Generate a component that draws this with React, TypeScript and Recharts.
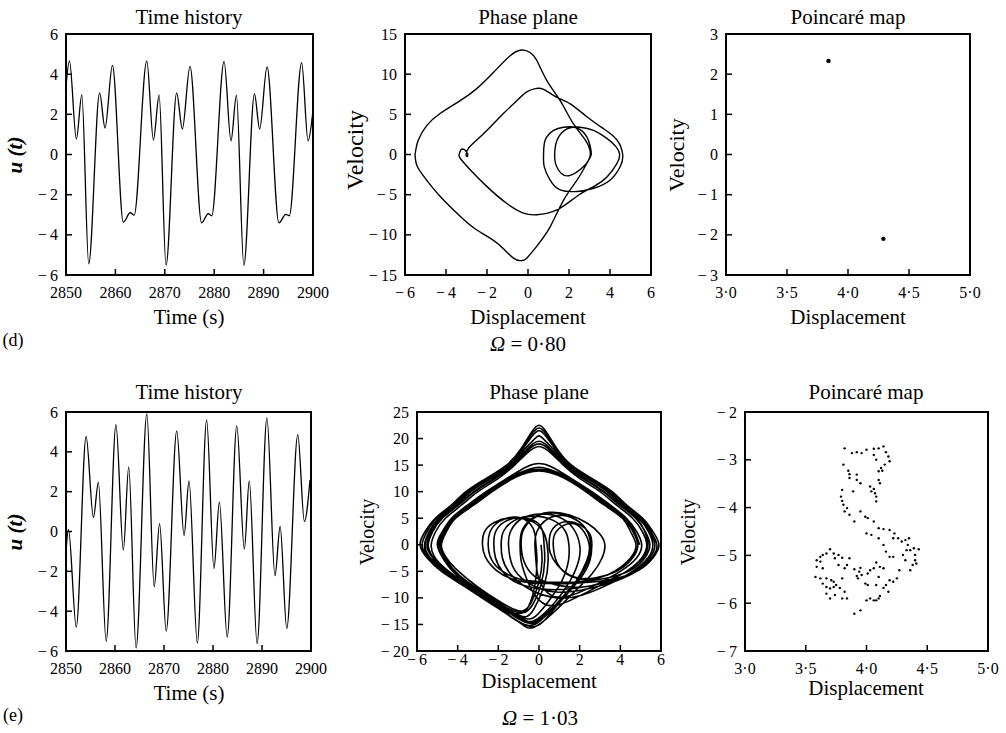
import type { ReactNode } from "react";
import { Line, LineChart, ReferenceArea, Scatter, ScatterChart, XAxis, YAxis } from "recharts";

const SERIF = '"Liberation Serif", "Times New Roman", serif';

// ---- (d) Ω = 0·80 ----
const timesD = [
  2850, 2850.7, 2852.1, 2853.2, 2854.6, 2856.8, 2857.9, 2859.4, 2861.6, 2863.0, 2863.8, 2866.35, 2867.7,
  2868.85, 2870.25, 2872.4, 2873.55, 2875.1, 2877.45, 2878.8, 2879.5, 2882.0, 2883.4, 2884.5, 2886.0,
  2888.15, 2889.2, 2890.7, 2893.1, 2894.5, 2895.2, 2897.7, 2899.0, 2900,
];
const uD = [
  3.4, 4.66, 0.77, 2.97, -5.44, 3.07, 1.32, 4.44, -3.37, -2.9, -3.02, 4.66, 0.72, 2.96, -5.52, 3.07, 1.27,
  4.39, -3.4, -2.95, -3.05, 4.64, 0.68, 2.94, -5.52, 3.02, 1.27, 4.36, -3.4, -2.98, -3.05, 4.57, 0.68, 2.2,
];

// displacement, velocity along one period of the orbit
const phaseD: [number, number][] = [
  [-5.51, 0], [-5.35, 1.8], [-4.94, 3.6], [-4.29, 5.1], [-3.31, 6.7], [-2.5, 8.2], [-1.69, 10.2], [-0.87, 12.3],
  [-0.3, 13.0], [0.1, 12.7], [0.43, 11.7], [0.92, 9.2], [1.57, 6.7], [2.22, 3.8], [2.8, 1.8], [3.04, 0],
  [2.71, -1.5], [2.06, -2.6], [1.6, -2.3], [1.35, -1.2], [1.3, 0],
  [1.42, 1.8], [1.9, 3.2], [2.55, 3.4], [3.2, 3.0], [3.85, 2.0], [4.3, 0.95], [4.47, 0],
  [4.34, -1.1], [3.85, -2.8], [3.2, -4.0], [2.39, -5.2], [1.41, -6.9], [0.43, -7.5], [-0.22, -7.3],
  [-1.03, -6.1], [-2.0, -4.0], [-2.82, -1.9], [-3.3, -0.5], [-3.36, 0],
  [-3.27, 0.6], [-3.1, 0.6], [-2.95, 0.1], [-2.97, -0.25], [-3.02, 0],
  [-2.9, 0.8], [-2.5, 1.8], [-1.85, 3.4], [-1.2, 5.1], [-0.55, 6.7], [-0.06, 7.8], [0.35, 8.2], [0.76, 8.1],
  [1.41, 7.1], [2.06, 6.3], [2.87, 4.7], [3.69, 3.2], [4.34, 1.8], [4.62, 0],
  [4.5, -1.5], [4.0, -3.2], [3.2, -4.2], [2.39, -4.6], [1.57, -4.4], [1.08, -3.2], [0.79, -1.5], [0.76, 0],
  [0.84, 1.8], [1.25, 3.0], [1.73, 3.4], [2.39, 3.3], [2.87, 2.2], [3.04, 0.95], [3.08, 0],
  [2.87, -1.1], [2.39, -3.2], [1.73, -5.7], [1.08, -9.0], [0.43, -11.4], [-0.06, -12.9], [-0.3, -13.2],
  [-0.71, -12.9], [-1.52, -11.0], [-2.5, -9.4], [-3.31, -7.7], [-4.29, -5.2], [-4.94, -3.2], [-5.4, -1.5],
  [-5.51, 0],
];

const poincareD: [number, number][] = [[3.84, 2.33], [4.29, -2.1]];

// ---- (e) Ω = 1·03 ----
const timesE = [
  2850, 2850.5, 2852.1, 2854.1, 2855.6, 2856.6, 2858.2, 2860.2, 2861.7, 2862.8, 2864.3, 2866.5, 2868.0,
  2869.1, 2870.45, 2872.6, 2874.1, 2875.1, 2876.8, 2878.7, 2880.2, 2881.3, 2882.9, 2884.85, 2886.4,
  2887.4, 2889.0, 2891.0, 2892.65, 2893.7, 2895.05, 2897.3, 2898.65, 2899.8,
];
const uE = [
  -1.0, 0.1, -4.8, 4.77, 0.7, 2.47, -5.51, 5.36, -0.93, 3.24, -5.85, 5.9, -2.78, 0.4, -5.0, 5.05, -0.2,
  2.54, -5.6, 5.6, -1.86, 1.47, -5.3, 5.3, -0.88, 2.54, -5.63, 5.7, -2.22, 0.25, -4.87, 4.86, 0.5, 2.6,
];

const phaseE: [number, number][] = [
  [0.1, 0], [0.15, -3], [0, -7], [-0.4, -11], [-0.9, -12.5], [-1.8, -11], [-3, -8], [-4.1, -4.5], [-4.6, -2.2], [-4.8, 0],
  [-4.55, 2.5], [-4.1, 5], [-3.2, 7.5], [-2.3, 10], [-1.2, 12.6], [0, 13.9], [1.2, 12.6], [2.3, 10], [3.2, 7.5], [4.1, 5], [4.5, 2.5], [4.77, 0],
  [4.5, -2.5], [3.7, -5], [2.6, -6.5], [1.6, -6], [0.9, -3.5], [0.7, 0],
  [0.85, 2.5], [1.5, 4], [2.1, 3], [2.47, 0],
  [2.35, -3], [1.8, -7], [0.9, -11], [0, -14], [-0.5, -14.5], [-1.4, -12.8], [-2.7, -9.8], [-4, -6.5], [-4.9, -3.8], [-5.35, -1.8], [-5.51, 0],
  [-5.3, 2.5], [-4.8, 5], [-4.0, 7.5], [-3.2, 10], [-2.2, 12.5], [-1.3, 15], [-0.7, 17.5], [-0.3, 19], [0, 19.5], [0.3, 19], [0.7, 17.5], [1.3, 15], [2.2, 12.5], [3.2, 10], [4.0, 7.5], [4.8, 5], [5.2, 2.5], [5.36, 0],
  [5.1, -2.5], [4.3, -5], [3.1, -7.5], [1.8, -10], [0.7, -11.5], [-0.1, -10], [-0.6, -6.5], [-0.88, -3], [-0.93, 0],
  [-0.85, 2.5], [-0.4, 4.8], [0.5, 6.1], [1.5, 5.6], [2.4, 4], [3.0, 2], [3.24, 0],
  [3.1, -2.5], [2.6, -5.5], [1.7, -9], [0.7, -12.8], [-0.3, -15.6], [-1.0, -14.5], [-2.2, -11.5], [-3.6, -8], [-4.8, -5], [-5.5, -2.5], [-5.85, 0],
  [-5.6, 2.5], [-5.1, 5], [-4.3, 7.5], [-3.6, 10], [-2.6, 12.5], [-1.6, 15], [-0.9, 18], [-0.35, 21.3], [0, 22.5], [0.35, 21.3], [0.9, 18], [1.6, 15], [2.6, 12.5], [3.6, 10], [4.3, 7.5], [5.1, 5], [5.6, 2.5], [5.9, 0],
  [5.6, -2.5], [4.9, -4.8], [3.6, -6.5], [2.0, -7.2], [0.5, -7.3], [-1.0, -6.8], [-2.1, -4.8], [-2.65, -2.2], [-2.78, 0],
  [-2.7, 2.3], [-2.2, 4.2], [-1.3, 5.1], [-0.4, 4.5], [0.2, 2.5], [0.4, 0],
  [0.45, -3], [0.3, -7], [-0.1, -11], [-0.6, -13.5], [-1.5, -12.3], [-2.8, -9], [-3.9, -6], [-4.6, -3.2], [-5.0, 0],
  [-4.75, 2.5], [-4.3, 5], [-3.5, 7.5], [-2.6, 10], [-1.5, 12.7], [-0.6, 14.7], [0, 15.3], [0.6, 14.7], [1.5, 12.7], [2.6, 10], [3.5, 7.5], [4.3, 5], [4.8, 2.5], [5.05, 0],
  [4.8, -2.5], [4.0, -5], [2.8, -7.5], [1.6, -9.5], [0.6, -9.5], [0.0, -6.5], [-0.15, -3], [-0.2, 0],
  [-0.1, 2.5], [0.4, 4.8], [1.2, 5.5], [2.0, 4.2], [2.45, 2], [2.54, 0],
  [2.45, -2.5], [2.0, -6], [1.2, -10], [0.3, -13.5], [-0.4, -14.8], [-1.2, -13.5], [-2.5, -10.3], [-3.8, -7.2], [-4.8, -4.3], [-5.4, -2.2], [-5.6, 0],
  [-5.38, 2.5], [-4.9, 5], [-4.1, 7.5], [-3.35, 10], [-2.35, 12.5], [-1.4, 15], [-0.75, 17.8], [-0.3, 19.6], [0, 20.5], [0.3, 19.6], [0.75, 17.8], [1.4, 15], [2.35, 12.5], [3.35, 10], [4.1, 7.5], [4.9, 5], [5.38, 2.5], [5.6, 0],
  [5.35, -2.5], [4.6, -5], [3.4, -7.5], [2.1, -9.5], [0.9, -10], [-0.4, -8.5], [-1.4, -5.5], [-1.8, -2.5], [-1.86, 0],
  [-1.75, 2.5], [-1.2, 4.6], [-0.3, 5.4], [0.7, 4.6], [1.3, 2.5], [1.47, 0],
  [1.45, -3], [1.1, -7], [0.4, -11], [-0.3, -13.8], [-1.0, -13.3], [-2.2, -10.8], [-3.5, -7.6], [-4.6, -4.5], [-5.15, -2.2], [-5.3, 0],
  [-5.08, 2.5], [-4.6, 5], [-3.8, 7.5], [-3.0, 10], [-2.0, 12.5], [-1.2, 15], [-0.6, 17.2], [0, 18.5], [0.6, 17.2], [1.2, 15], [2.0, 12.5], [3.0, 10], [3.8, 7.5], [4.6, 5], [5.08, 2.5], [5.3, 0],
  [5.05, -2.5], [4.3, -5], [3.2, -7], [2.0, -8], [0.8, -7.5], [-0.2, -6], [-0.75, -3], [-0.88, 0],
  [-0.8, 2.5], [-0.3, 4.9], [0.6, 6.0], [1.6, 5.2], [2.3, 3], [2.54, 0],
  [2.42, -3], [1.9, -6.5], [1.0, -10.5], [0.1, -14.2], [-0.5, -15.2], [-1.3, -13.8], [-2.6, -10.2], [-3.9, -7], [-4.9, -4.2], [-5.45, -2.2], [-5.63, 0],
  [-5.4, 2.5], [-4.95, 5], [-4.2, 7.5], [-3.45, 10], [-2.45, 12.5], [-1.5, 15], [-0.85, 17.8], [-0.35, 20.4], [0, 21.5], [0.35, 20.4], [0.85, 17.8], [1.5, 15], [2.45, 12.5], [3.45, 10], [4.2, 7.5], [4.95, 5], [5.45, 2.5], [5.7, 0],
  [5.45, -2.5], [4.7, -5], [3.4, -7], [1.8, -8.2], [0.3, -8.4], [-1.0, -7.3], [-1.8, -5], [-2.15, -2.3], [-2.22, 0],
  [-2.15, 2.3], [-1.7, 4.3], [-0.9, 5.1], [-0.1, 4.2], [0.2, 2.2], [0.25, 0],
  [0.28, -3], [0.1, -7.5], [-0.3, -11.2], [-0.8, -12.8], [-1.7, -11.6], [-2.9, -8.6], [-3.9, -5.8], [-4.55, -3], [-4.87, 0],
  [-4.62, 2.5], [-4.15, 5], [-3.3, 7.5], [-2.4, 10], [-1.3, 12.7], [0, 14.2], [1.3, 12.7], [2.4, 10], [3.3, 7.5], [4.15, 5], [4.62, 2.5], [4.86, 0],
  [4.6, -2.5], [3.9, -4.8], [2.8, -6.2], [1.7, -6], [0.9, -3.8], [0.55, -1.5], [0.5, 0],
  [0.6, 2.5], [1.2, 4.3], [2.0, 3.8], [2.5, 2], [2.6, 0],
  // later cycles, seen only in the phase plane
  [2.5, -3], [2.0, -6.5], [1.1, -10.5], [0.2, -14.5], [-0.4, -15.4], [-1.2, -14], [-2.5, -10.6], [-3.9, -7.3], [-4.95, -4.4], [-5.5, -2.2], [-5.75, 0],
  [-5.5, 2.5], [-5.05, 5], [-4.25, 7.5], [-3.5, 10], [-2.5, 12.5], [-1.55, 15], [-0.9, 17.9], [-0.35, 20.9], [0, 22], [0.35, 20.9], [0.9, 17.9], [1.55, 15], [2.5, 12.5], [3.5, 10], [4.25, 7.5], [5.05, 5], [5.5, 2.5], [5.8, 0],
  [5.55, -2.5], [4.8, -5], [3.5, -7.2], [2.0, -8.6], [0.6, -8.8], [-0.6, -7], [-1.3, -4], [-1.5, 0],
  [-1.4, 2.5], [-0.9, 4.8], [0, 5.8], [1.0, 5.2], [1.7, 3], [2.0, 0],
  [1.95, -3], [1.5, -7], [0.7, -11.2], [-0.1, -14], [-0.7, -14.4], [-1.6, -12.6], [-2.9, -9.6], [-4.1, -6.5], [-4.95, -3.6], [-5.3, -1.8], [-5.45, 0],
  [-5.22, 2.5], [-4.75, 5], [-3.95, 7.5], [-3.15, 10], [-2.15, 12.5], [-1.25, 15], [-0.65, 17.4], [0, 19], [0.65, 17.4], [1.25, 15], [2.15, 12.5], [3.15, 10], [3.95, 7.5], [4.75, 5], [5.22, 2.5], [5.45, 0],
  [5.2, -2.5], [4.5, -4.8], [3.3, -6.3], [1.8, -7], [0.3, -7], [-1.0, -6.4], [-2.0, -4.4], [-2.42, -2], [-2.5, 0],
  [-2.42, 2.3], [-1.95, 4.4], [-1.1, 5.2], [-0.45, 4], [-0.2, 2], [-0.15, 0],
  [-0.1, -3], [-0.2, -7.5], [-0.5, -11.5], [-1.0, -13], [-1.9, -11.8], [-3.0, -8.8], [-4.0, -5.9], [-4.65, -3], [-4.95, 0],
  [-4.7, 2.5], [-4.22, 5], [-3.4, 7.5], [-2.5, 10], [-1.4, 12.7], [-0.5, 14.2], [0, 14.6], [0.5, 14.2], [1.4, 12.7], [2.5, 10], [3.4, 7.5], [4.22, 5], [4.7, 2.5], [4.95, 0],
];

const poincareE: [number, number][] = [
  [3.82, -2.76], [3.88, -2.86], [3.92, -2.84], [3.96, -2.86], [4.0, -2.79], [4.06, -2.77], [4.1, -2.76], [4.14, -2.72],
  [4.16, -2.84], [4.18, -2.93], [4.19, -3.03], [4.06, -2.9], [4.08, -3.0], [4.15, -3.1], [4.12, -3.17], [4.13, -3.23],
  [4.1, -3.24], [3.81, -3.1], [3.85, -3.23], [3.86, -3.3], [3.92, -3.31], [3.92, -3.42], [3.86, -3.38], [3.95, -3.49],
  [3.89, -3.66], [3.8, -3.63], [3.79, -3.77], [3.8, -3.86], [3.82, -4.08], [3.9, -4.29], [3.95, -4.08], [3.99, -4.19],
  [4.01, -4.22], [4.06, -4.29], [4.1, -4.43], [4.14, -4.45], [4.19, -4.47], [4.0, -4.54], [4.04, -4.57], [4.1, -4.64],
  [4.14, -4.78], [4.16, -4.92], [4.19, -5.03], [4.22, -5.03], [4.03, -3.56], [4.06, -3.61], [4.04, -3.66], [4.07, -3.7],
  [4.08, -3.77], [4.08, -3.87], [4.1, -3.42], [4.11, -3.49], [4.26, -4.64], [4.29, -4.71], [4.32, -4.68], [4.35, -4.64],
  [4.34, -4.78], [4.36, -4.89], [4.39, -4.85], [4.43, -4.87], [4.4, -4.99], [4.4, -5.1], [4.41, -5.17], [4.38, -5.2],
  [4.32, -5.1], [4.3, -4.99], [4.33, -4.89], [4.36, -5.31], [4.27, -5.31], [4.25, -5.48], [4.22, -5.55], [4.19, -5.52],
  [4.16, -5.62], [4.14, -5.68], [4.18, -5.76], [4.08, -5.15], [4.06, -5.27], [4.03, -5.31], [4.01, -5.38], [4.11, -5.24],
  [4.14, -5.27], [4.1, -5.45], [3.99, -5.59], [4.01, -5.62], [4.08, -5.62], [4.03, -5.9], [4.06, -5.94], [4.08, -5.94],
  [4.1, -5.9], [4.11, -5.85], [4.0, -5.94], [3.95, -6.15], [3.9, -6.22], [3.95, -5.26], [3.94, -5.34], [3.96, -5.41],
  [3.92, -5.43], [3.93, -5.48], [3.9, -5.29], [3.86, -5.06], [3.84, -5.2], [3.82, -5.27], [3.8, -5.05], [3.77, -4.99],
  [3.73, -4.96], [3.7, -4.87], [3.67, -4.96], [3.64, -4.99], [3.62, -5.03], [3.59, -5.1], [3.59, -5.24], [3.58, -5.45],
  [3.62, -5.48], [3.64, -5.59], [3.67, -5.66], [3.7, -5.69], [3.73, -5.66], [3.75, -5.62], [3.78, -5.68], [3.73, -5.55],
  [3.71, -5.52], [3.67, -5.48], [3.67, -5.8], [3.7, -5.9], [3.74, -5.83], [3.8, -5.9], [3.84, -5.9], [3.82, -5.76],
  [3.8, -5.48], [3.77, -5.2], [3.74, -5.06], [3.62, -5.13], [3.64, -5.27], [3.81, -3.94], [3.86, -4.15], [3.84, -4.01],
  [4.23, -4.54], [4.22, -4.64],
];

// ---- axes ----
const timeTicks = [2850, 2860, 2870, 2880, 2890, 2900];
const uTicks = [-6, -4, -2, 0, 2, 4, 6];
const dispTicks = [-6, -4, -2, 0, 2, 4, 6];
const velTicksD = [-15, -10, -5, 0, 5, 10, 15];
const velTicksE = [-20, -15, -10, -5, 0, 5, 10, 15, 20, 25];
const mapDispTicks = [3, 3.5, 4, 4.5, 5];
const mapVelTicksD = [-3, -2, -1, 0, 1, 2, 3];
const mapVelTicksE = [-7, -6, -5, -4, -3, -2];

const fmtPlain = (v: number) => `${v}`;
const fmtInt = (v: number) => (v < 0 ? `\u2212\u2009${-v}` : `${v}`);
const fmtDot = (v: number) => v.toFixed(1).replace(".", "\u00b7");

type Box = { l: number; t: number; r: number; b: number };

const boxes: Record<string, Box> = {
  thD: { l: 66, t: 34, r: 313, b: 275 },
  ppD: { l: 405, t: 34, r: 651, b: 275 },
  pmD: { l: 726, t: 34, r: 970, b: 275 },
  thE: { l: 66, t: 412, r: 311, b: 651 },
  ppE: { l: 417, t: 412, r: 661, b: 651 },
  pmE: { l: 745, t: 412, r: 988, b: 651 },
};

const tickLineStyle = { stroke: "#000", strokeWidth: 1.5 };

// serif tick labels drawn by hand so the font is sure to stick
const xTick = (fmt: (v: number) => string) => (props: any) => (
  <text x={props.x} y={props.y} dy="0.71em" textAnchor="middle" fontFamily={SERIF} fontSize={16} fill="#000">
    {fmt(props.payload.value)}
  </text>
);
const yTick = (fmt: (v: number) => string) => (props: any) => (
  <text x={props.x} y={props.y} dy="0.35em" textAnchor="end" fontFamily={SERIF} fontSize={16} fill="#000">
    {fmt(props.payload.value)}
  </text>
);

function frame(
  xDomain: [number, number],
  yDomain: [number, number],
  xTicks: number[],
  yTicks: number[],
  xFmt: (v: number) => string,
  yFmt: (v: number) => string,
  xGap: number,
) {
  return [
    <XAxis
      key="x"
      type="number"
      dataKey="x"
      domain={xDomain}
      ticks={xTicks}
      interval={0}
      allowDataOverflow
      axisLine={false}
      tickSize={-6}
      tickMargin={xGap}
      height={40}
      tick={xTick(xFmt)}
      tickLine={tickLineStyle}
    />,
    <YAxis
      key="y"
      type="number"
      dataKey="y"
      domain={yDomain}
      ticks={yTicks}
      interval={0}
      allowDataOverflow
      axisLine={false}
      tickSize={-6}
      tickMargin={14}
      width={60}
      tick={yTick(yFmt)}
      tickLine={tickLineStyle}
    />,
    <ReferenceArea
      key="box"
      x1={xDomain[0]}
      x2={xDomain[1]}
      y1={yDomain[0]}
      y2={yDomain[1]}
      fill="none"
      fillOpacity={0}
      stroke="#000"
      strokeWidth={2}
      ifOverflow="visible"
    />,
  ];
}

const margin = { top: 10, right: 30, left: 0, bottom: 0 };

function place(box: Box) {
  return {
    style: { position: "absolute" as const, left: box.l - 60, top: box.t - 10 },
    width: box.r - box.l + 90,
    height: box.b - box.t + 50,
  };
}

function TimePanel({ box, times, values }: { box: Box; times: number[]; values: number[] }) {
  const p = place(box);
  const rows = times.map((t, i) => ({ x: t, y: values[i] }));
  return (
    <div style={p.style}>
      <LineChart width={p.width} height={p.height} data={rows} margin={margin}>
        {frame([2850, 2900], [-6, 6], timeTicks, uTicks, fmtPlain, fmtInt, 18)}
        <Line type="monotone" dataKey="y" stroke="#000" strokeWidth={1.3} dot={false} isAnimationActive={false} />
      </LineChart>
    </div>
  );
}

function PhasePanel({
  box,
  points,
  yDomain,
  yTicks,
  gap,
  width,
}: {
  box: Box;
  points: [number, number][];
  yDomain: [number, number];
  yTicks: number[];
  gap: number;
  width: number;
}) {
  const p = place(box);
  const rows = points.map(([x, y]) => ({ x, y }));
  return (
    <div style={p.style}>
      <LineChart width={p.width} height={p.height} data={rows} margin={margin}>
        {frame([-6, 6], yDomain, dispTicks, yTicks, fmtInt, fmtInt, gap)}
        <Line type="natural" dataKey="y" stroke="#000" strokeWidth={width} dot={false} isAnimationActive={false} />
      </LineChart>
    </div>
  );
}

function MapPanel({
  box,
  points,
  yDomain,
  yTicks,
  r,
}: {
  box: Box;
  points: [number, number][];
  yDomain: [number, number];
  yTicks: number[];
  r: number;
}) {
  const p = place(box);
  const rows = points.map(([x, y]) => ({ x, y }));
  return (
    <div style={p.style}>
      <ScatterChart width={p.width} height={p.height} margin={margin}>
        {frame([3, 5], yDomain, mapDispTicks, yTicks, fmtDot, fmtInt, 18)}
        <Scatter
          data={rows}
          isAnimationActive={false}
          shape={(s: any) => <circle cx={s.cx} cy={s.cy} r={r} fill="#000" />}
        />
      </ScatterChart>
    </div>
  );
}

function Txt({
  x,
  y,
  size = 21,
  rotate = false,
  style,
  children,
}: {
  x: number;
  y: number;
  size?: number;
  rotate?: boolean;
  style?: React.CSSProperties;
  children: ReactNode;
}) {
  return (
    <div
      style={{
        position: "absolute",
        left: x,
        top: y,
        transform: `translate(-50%, -50%)${rotate ? " rotate(-90deg)" : ""}`,
        fontFamily: SERIF,
        fontSize: size,
        lineHeight: 1,
        whiteSpace: "nowrap",
        color: "#000",
        ...style,
      }}
    >
      {children}
    </div>
  );
}

const uLabel = { fontWeight: 700, fontStyle: "italic" as const };

export default function App() {
  return (
    <div
      style={{
        position: "absolute",
        left: 0,
        top: 0,
        width: 1006,
        height: 733,
        background: "#fff",
        overflow: "hidden",
        fontFamily: SERIF,
      }}
    >
      <TimePanel box={boxes.thD} times={timesD} values={uD} />
      <PhasePanel box={boxes.ppD} points={phaseD} yDomain={[-15, 15]} yTicks={velTicksD} gap={18} width={1.4} />
      <MapPanel box={boxes.pmD} points={poincareD} yDomain={[-3, 3]} yTicks={mapVelTicksD} r={2.2} />
      <TimePanel box={boxes.thE} times={timesE} values={uE} />
      <PhasePanel box={boxes.ppE} points={phaseE} yDomain={[-20, 25]} yTicks={velTicksE} gap={9} width={1.6} />
      <MapPanel box={boxes.pmE} points={poincareE} yDomain={[-7, -2]} yTicks={mapVelTicksE} r={1.2} />

      <Txt x={189} y={17}>Time history</Txt>
      <Txt x={528} y={17}>Phase plane</Txt>
      <Txt x={848} y={17}>Poincaré map</Txt>
      <Txt x={189} y={392}>Time history</Txt>
      <Txt x={539} y={392}>Phase plane</Txt>
      <Txt x={866} y={392}>Poincaré map</Txt>

      <Txt x={15} y={155} rotate style={uLabel}>u (t)</Txt>
      <Txt x={355} y={150} size={24} rotate>Velocity</Txt>
      <Txt x={677} y={155} size={22} rotate>Velocity</Txt>
      <Txt x={15} y={532} rotate style={uLabel}>u (t)</Txt>
      <Txt x={367} y={532} size={20} rotate>Velocity</Txt>
      <Txt x={688} y={532} size={20} rotate>Velocity</Txt>

      <Txt x={189} y={317}>Time (s)</Txt>
      <Txt x={528} y={317}>Displacement</Txt>
      <Txt x={848} y={317}>Displacement</Txt>
      <Txt x={189} y={693}>Time (s)</Txt>
      <Txt x={539} y={681}>Displacement</Txt>
      <Txt x={866} y={688}>Displacement</Txt>

      <Txt x={13} y={340} size={18}>(d)</Txt>
      <Txt x={528} y={344}>
        <span style={{ fontStyle: "italic" }}>Ω</span> = 0·80
      </Txt>
      <Txt x={13} y={715} size={18}>(e)</Txt>
      <Txt x={540} y={718}>
        <span style={{ fontStyle: "italic" }}>Ω</span> = 1·03
      </Txt>
    </div>
  );
}
